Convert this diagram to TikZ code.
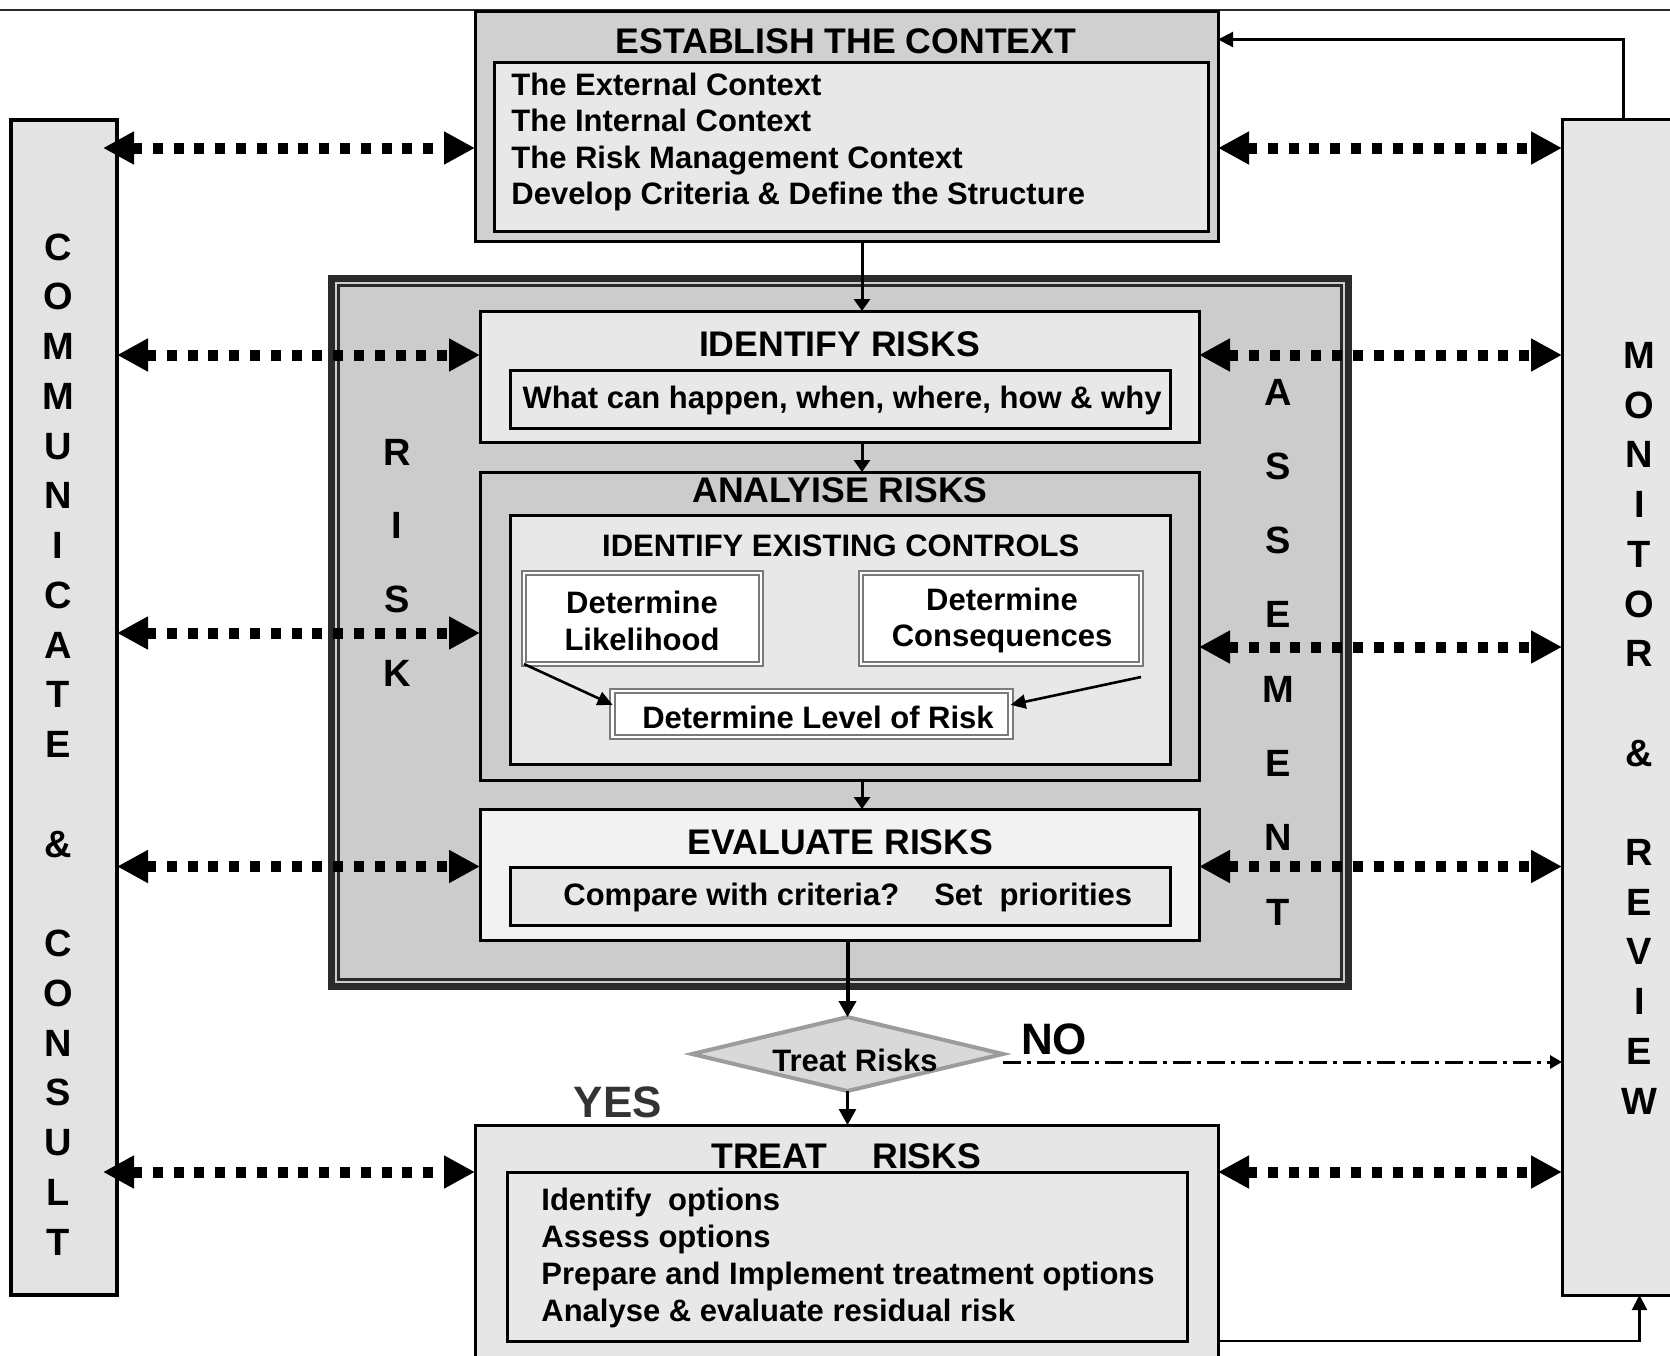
\documentclass[tikz,border=0pt]{standalone}
\usepackage{fontspec}
\setmainfont{Liberation Sans}
\usetikzlibrary{arrows.meta,shapes.geometric,calc}
\definecolor{cEst}{HTML}{D0D0D0}
\definecolor{cIn}{HTML}{E8E8E8}
\definecolor{cCol}{HTML}{E3E3E3}
\definecolor{cFrame}{HTML}{CCCCCC}
\definecolor{cEval}{HTML}{F2F2F2}
\definecolor{cTreat}{HTML}{E6E6E6}
\definecolor{cDia}{HTML}{D9D9D9}
\definecolor{cDiaB}{HTML}{9C9C9C}
\definecolor{cDbl}{HTML}{7A7A7A}
\definecolor{cDark}{HTML}{2A2A2A}
\definecolor{cYes}{HTML}{333333}
\newcommand\fTitle{\fontsize{17.8}{20}\selectfont\bfseries}
\newcommand\fText{\fontsize{15.5}{18}\selectfont\bfseries}
\newcommand\fVert{\fontsize{19}{22}\selectfont\bfseries}
\newcommand\fBig{\fontsize{22}{26}\selectfont\bfseries}
\begin{document}
\begin{tikzpicture}[x=0.5pt,y=-0.5pt,
  sz/.style 2 args={minimum width={#1*0.5pt},minimum height={#2*0.5pt}},
  bx/.style={draw=black,line width=1.5pt,inner sep=0pt,outer sep=0pt},
  dbl/.style={draw=cDbl,double=white,line width=1.1pt,double distance=1.2pt,fill=white,inner sep=0pt,outer sep=0pt},
  ttl/.style={font=\fTitle,inner sep=0pt,anchor=base},
  txt/.style={font=\fText,inner sep=0pt,anchor=base},
  txl/.style={font=\fText,inner sep=0pt,anchor=base west},
  vlt/.style={font=\fVert,inner sep=0pt,anchor=base},
  big/.style={font=\fBig,inner sep=0pt,anchor=base},
  dotarr/.style={line width=5.5pt,dash pattern=on 5pt off 5.4pt,{Triangle[length=15.5pt,width=15.5pt]}-{Triangle[length=15.5pt,width=15.5pt]}},
  flow/.style={line width=1.5pt,-{Triangle[length=6pt,width=8pt]}},
  fb/.style={line width=1.1pt,-{Triangle[length=7.5pt,width=7.5pt]}},
  liarr/.style={line width=1.3pt,-{Triangle[length=7.5pt,width=7pt]}}
]
\useasboundingbox (0,0) rectangle (1670,1355);
\clip (0,0) rectangle (1670,1355);

% top rule
\coordinate (ruleL) at (0,9.5);
\coordinate (ruleR) at (1670,9.5);
\draw[line width=1pt,cDark] (ruleL) -- (ruleR);

% side columns
\node[bx,fill=cCol,line width=1.75pt,sz={106}{1175}] (comm) at (64,707.5) {};
\node[bx,fill=cTreat,line width=1.5pt,sz={123}{1176}] (mon) at (1623.5,707) {};

% establish the context
\node[bx,fill=cEst,sz={743}{230}] (est) at (846.5,126) {};
\node[bx,fill=cIn,sz={714}{169}] (estin) at (851,146.5) {};

% risk assessment frame
\node[draw=cDark,line width=3.5pt,fill=cFrame,inner sep=0pt,outer sep=0pt,sz={1017}{708}] (frame) at (840,632.5) {};
\node[draw=cDark,line width=1.5pt,inner sep=0pt,outer sep=0pt,sz={1003.2}{694.5}] (frameIn) at (839.9,632.25) {};

% identify
\node[bx,fill=cIn,sz={719}{131}] (idr) at (839.5,376.5) {};
\node[bx,fill=cIn,sz={660}{58}] (idrin) at (840,399) {};
% analyse
\node[bx,fill=cFrame,sz={719}{308}] (anr) at (839.5,626) {};
\node[bx,fill=cIn,sz={660}{249}] (ctl) at (840,639.5) {};
\node[dbl,sz={237}{91}] (lik) at (642.5,618.5) {};
\node[dbl,sz={280}{91}] (con) at (1001,618.5) {};
\node[dbl,sz={398}{46}] (lev) at (811.6,714) {};
% evaluate
\node[bx,fill=cEval,sz={719}{131}] (evr) at (839.5,874.5) {};
\node[bx,fill=cIn,sz={660}{58}] (evrin) at (840,896) {};
% decision
\node[diamond,draw=cDiaB,fill=cDia,line width=2pt,inner sep=0pt,outer sep=0pt,sz={311}{74}] (dia) at (847.5,1054) {};
% treat
\node[bx,fill=cTreat,sz={743}{255}] (trr) at (846.5,1252.5) {};
\node[bx,fill=cIn,sz={680}{169}] (trrin) at (847,1256.5) {};

% texts
\node[ttl] (tEst) at (846,53.5) {ESTABLISH THE CONTEXT};
\node[txl] (tE1) at (511,95) {The External Context};
\node[txl] (tE2) at (511,131.7) {The Internal Context};
\node[txl] (tE3) at (511,168.5) {The Risk Management Context};
\node[txl] (tE4) at (511,204.5) {Develop Criteria \& Define the Structure};

\node[ttl] (tIdr) at (839.5,356) {IDENTIFY RISKS};
\node[txt] (tIdrIn) at (842,408.3) {What can happen, when, where, how \& why};
\node[ttl] (tAnr) at (840,502.3) {ANALYISE RISKS};
\node[txt] (tCtl) at (840.7,556) {IDENTIFY EXISTING CONTROLS};
\node[txt] (tLik1) at (642,613.3) {Determine};
\node[txt] (tLik2) at (642,650) {Likelihood};
\node[txt] (tCon1) at (1002,610) {Determine};
\node[txt] (tCon2) at (1002,646.7) {Consequences};
\node[txt] (tLev) at (818,728.3) {Determine Level of Risk};
\node[ttl] (tEvr) at (840.5,854) {EVALUATE RISKS};
\node[txl] (tEvrIn) at (563,905) {Compare with criteria?\hspace{17.5pt}Set\hspace{8.5pt}priorities};
\node[txt] (tDia) at (855,1071) {Treat Risks};
\node[big] (tNo) at (1054,1054) {NO};
\node[big,text=cYes] (tYes) at (618,1117) {YES};
\node[font=\fTitle,inner sep=0pt,anchor=base west] (tTrr) at (711,1168.3) {TREAT\hspace{22.5pt}RISKS};
\node[txl] (tT1) at (541,1210) {Identify\hspace{8.3pt}options};
\node[txl] (tT2) at (541,1247) {Assess options};
\node[txl] (tT3) at (541,1284) {Prepare and Implement treatment options};
\node[txl] (tT4) at (541,1321) {Analyse \& evaluate residual risk};

% vertical letters
\foreach \i/\ch in {0/C,1/O,2/M,3/M,4/U,5/N,6/I,7/C,8/A,9/T,10/E,12/\&,14/C,15/O,16/N,17/S,18/U,19/L,20/T}
  \node[vlt] (cc\i) at (58,{260+49.75*\i}) {\ch};
\foreach \i/\ch in {0/M,1/O,2/N,3/I,4/T,5/O,6/R,8/\&,10/R,11/E,12/V,13/I,14/E,15/W}
  \node[vlt] (mr\i) at (1639.5,{368.5+49.7*\i}) {\ch};
\foreach \i/\ch in {0/R,1/I,2/S,3/K}
  \node[vlt] (rk\i) at (397,{465+73.9*\i}) {\ch};
\foreach \i/\ch in {0/A,1/S,2/S,3/E,4/M,5/E,6/N,7/T}
  \node[vlt] (as\i) at (1278,{405+74.3*\i}) {\ch};

% flow arrows
\coordinate (xa) at (862,0);
\draw[flow] (est.south -| xa) -- (idr.north -| xa);
\draw[flow] (idr.south -| xa) -- (anr.north -| xa);
\draw[flow] (anr.south -| xa) -- (evr.north -| xa);
\draw[line width=2pt,-{Triangle[length=8pt,width=8.5pt]}] (evr.south -| dia.north) -- (dia.north);
\draw[line width=1.4pt,-{Triangle[length=8pt,width=8.5pt]}] (dia.south) -- (trr.north -| dia.south);
\draw[liarr] (lik.south west) -- ($(lev.north west)!0.3!(lev.south west)$);
\draw[liarr] ([yshift=-6.5pt]con.south east) -- ($(lev.north east)!0.3!(lev.south east)$);

% NO branch
\coordinate (noy) at (0,1062);
\draw[line width=1.5pt,dash pattern=on 9pt off 3pt on 2pt off 3pt,-{Triangle[length=6pt,width=6.5pt]}] (dia.east |- noy) -- (mon.west |- noy);

% feedback lines
\coordinate (ytop) at (0,39.5);
\draw[fb] (mon.north) |- (est.east |- ytop);
\coordinate (xb) at (1639.5,0);
\draw[fb] (trr.east |- trrin.south) -| (mon.south -| xb);

% communication arrows
\coordinate (r1) at (0,148);
\coordinate (r2) at (0,355);
\coordinate (r3l) at (0,633);
\coordinate (r3r) at (0,647);
\coordinate (r4) at (0,866.5);
\coordinate (r5) at (0,1172);
\draw[dotarr,shorten <=-7pt] (comm.east |- r1) -- (est.west |- r1);
\draw[dotarr] (est.east |- r1) -- (mon.west |- r1);
\draw[dotarr] (comm.east |- r2) -- (idr.west |- r2);
\draw[dotarr] (idr.east |- r2) -- (mon.west |- r2);
\draw[dotarr] (comm.east |- r3l) -- (anr.west |- r3l);
\draw[dotarr] (anr.east |- r3r) -- (mon.west |- r3r);
\draw[dotarr] (comm.east |- r4) -- (evr.west |- r4);
\draw[dotarr] (evr.east |- r4) -- (mon.west |- r4);
\draw[dotarr,shorten <=-7pt] (comm.east |- r5) -- (trr.west |- r5);
\draw[dotarr] (trr.east |- r5) -- (mon.west |- r5);
\end{tikzpicture}
\end{document}
